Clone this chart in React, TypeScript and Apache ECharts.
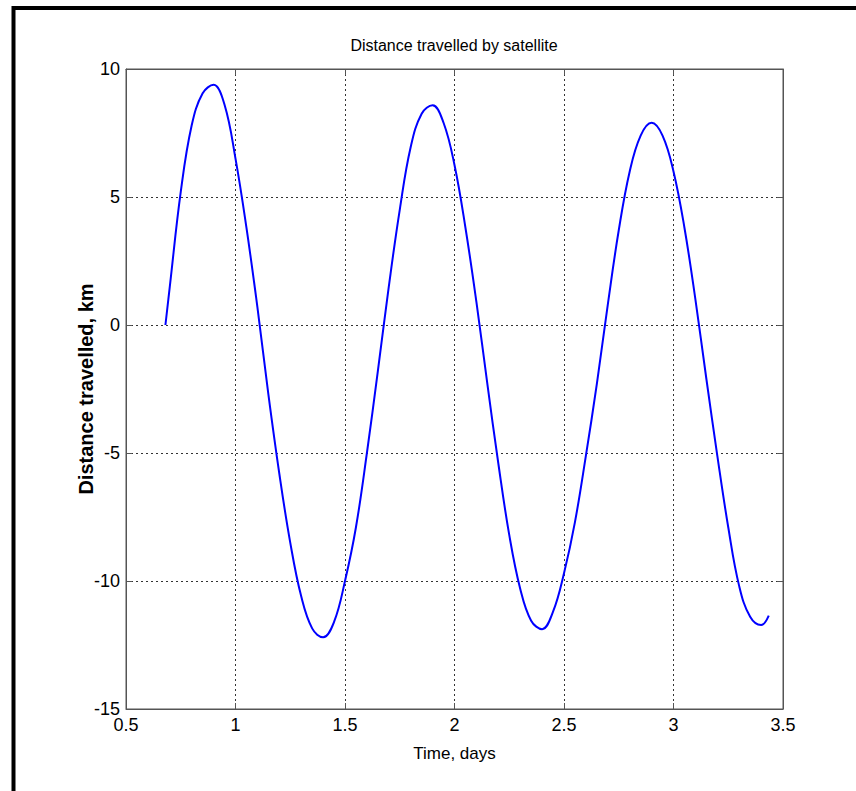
import React, { useEffect, useRef } from "react";
import * as echarts from "echarts";

const timeDays = [
  0.68, 0.7, 0.75, 0.8, 0.85, 0.9, 0.95, 1.0, 1.05, 1.1, 1.15, 1.2, 1.25, 1.3, 1.35, 1.4,
  1.45, 1.5, 1.55, 1.6, 1.65, 1.7, 1.75, 1.8, 1.85, 1.9, 1.95, 2.0, 2.05, 2.1, 2.15, 2.2,
  2.25, 2.3, 2.35, 2.4, 2.45, 2.5, 2.55, 2.6, 2.65, 2.7, 2.75, 2.8, 2.85, 2.9, 2.95, 3.0,
  3.05, 3.1, 3.15, 3.2, 3.25, 3.3, 3.35, 3.4, 3.435,
];
const distanceKm = [
  0.0, 1.5, 5.2, 7.8, 9.05, 9.38, 8.6, 6.5, 3.8, 0.7, -2.7, -5.8, -8.5, -10.6, -11.85, -12.2,
  -11.6, -10.0, -7.9, -5.0, -1.8, 1.5, 4.5, 6.95, 8.25, 8.58, 7.9, 6.25, 3.8, 0.9, -2.3, -5.4,
  -8.2, -10.3, -11.55, -11.88, -11.2, -9.7, -7.7, -5.1, -2.3, 0.8, 3.7, 6.0, 7.4, 7.9, 7.4, 6.0,
  3.8, 1.0, -2.1, -5.1, -7.9, -10.2, -11.4, -11.72, -11.35,
];

const titleText = "Distance travelled by satellite";
const xName = "Time, days";
const yName = "Distance travelled, km";

export default function App() {
  const ref = useRef<HTMLDivElement>(null);
  useEffect(() => {
    document.body.style.margin = "0";
    const chart = echarts.init(ref.current!, null, { renderer: "svg" });
    const font = "'Liberation Sans Narrow', 'Liberation Sans', Arial, sans-serif";
    const gridLine = { show: true, lineStyle: { color: "#333", type: [2, 3] as any, width: 1 } };
    const tick = { show: true, inside: true, length: 6, lineStyle: { color: "#555" } };
    const line = { show: true, onZero: false, lineStyle: { color: "#555", width: 1 } };
    chart.setOption({
      animation: false,
      backgroundColor: "#fff",
      grid: {
        left: 126,
        top: 69,
        width: 657,
        height: 640,
        show: true,
        borderColor: "#555",
        borderWidth: 1,
        backgroundColor: "transparent",
      },
      xAxis: [
        {
          type: "value",
          min: 0.5,
          max: 3.5,
          interval: 0.5,
          name: xName,
          nameLocation: "middle",
          nameGap: 36,
          nameTextStyle: { color: "#000", fontSize: 17, fontFamily: font },
          axisLine: line,
          axisTick: tick,
          axisLabel: { color: "#000", fontSize: 18, fontFamily: font, margin: 7 },
          splitLine: gridLine,
        },
        {
          type: "value",
          position: "top",
          min: 0.5,
          max: 3.5,
          interval: 0.5,
          axisLine: line,
          axisTick: tick,
          axisLabel: { show: false },
          splitLine: { show: false },
        },
      ],
      yAxis: [
        {
          type: "value",
          min: -15,
          max: 10,
          interval: 5,
          name: yName,
          nameLocation: "middle",
          nameGap: 30,
          nameMoveOverlap: false,
          nameTextStyle: { color: "#000", fontSize: 20, fontWeight: "bold", fontFamily: "'Liberation Sans', Arial, sans-serif" },
          axisLine: line,
          axisTick: tick,
          axisLabel: { color: "#000", fontSize: 18, fontFamily: font, margin: 6 },
          splitLine: gridLine,
        },
        {
          type: "value",
          position: "right",
          min: -15,
          max: 10,
          interval: 5,
          axisLine: line,
          axisTick: tick,
          axisLabel: { show: false },
          splitLine: { show: false },
        },
      ],
      graphic: [
        {
          type: "rect",
          shape: { x: 13.5, y: 8, width: 1000, height: 1000 },
          style: { fill: "none", stroke: "#000", lineWidth: 4 },
          silent: true,
        },
        {
          type: "text",
          x: 454,
          y: 45,
          style: {
            text: titleText,
            fill: "#000",
            fontSize: 16,
            fontFamily: font,
            align: "center",
            verticalAlign: "middle",
          },
        },
      ],
      series: [
        {
          type: "line",
          xAxisIndex: 0,
          yAxisIndex: 0,
          data: timeDays.map((t, i) => [t, distanceKm[i]]),
          smooth: 0.4,
          showSymbol: false,
          lineStyle: { color: "#0000ff", width: 2 },
        },
      ],
    });
    return () => chart.dispose();
  }, []);
  return <div ref={ref} style={{ position: "absolute", left: 0, top: 0, width: 856, height: 791 }} />;
}
